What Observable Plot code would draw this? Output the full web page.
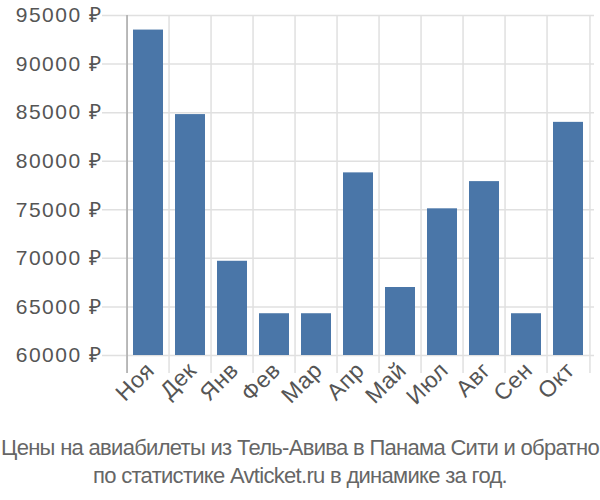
<!DOCTYPE html>
<html>
<head>
<meta charset="utf-8">
<script src="https://cdn.jsdelivr.net/npm/d3@7"></script>
<script src="https://cdn.jsdelivr.net/npm/@observablehq/plot@0.6"></script>
<style>
  html, body { margin: 0; padding: 0; background: #fff; }
  #chart { width: 600px; height: 430px; }
  #chart svg { display: block; }
  .ylab text { font-size: 21px; letter-spacing: 1.5px; }
  .xlab text { font-size: 23px; letter-spacing: 0.5px; }
  .caption { width: 600px; text-align: center; font-family: "Liberation Sans", Arial, sans-serif; font-size: 22px; letter-spacing: -0.7px; color: #666; line-height: 28px; margin-top: 4px; white-space: nowrap; }
</style>
</head>
<body>
<div id="chart"></div>
<script>
const months = ["Ноя", "Дек", "Янв", "Фев", "Мар", "Апр", "Май", "Июл", "Авг", "Сен", "Окт"];
const prices = [93500, 84800, 69700, 64300, 64300, 78800, 67000, 75100, 77900, 64300, 84000];
const yTicks = [60000, 65000, 70000, 75000, 80000, 85000, 90000, 95000];
const captionLines = ["Цены на авиабилеты из Тель-Авива в Панама Сити и обратно", "по статистике Avticket.ru в динамике за год."];

const data = months.map((m, i) => ({month: m, price: prices[i]}));
const W = 600, ML = 122, MR = 6;
const step = (W - ML - MR) / months.length;

const chart = Plot.plot({
  width: W,
  height: 430,
  marginLeft: ML,
  marginRight: MR,
  marginTop: 15,
  marginBottom: 75,
  style: {fontFamily: "Liberation Sans, Arial, sans-serif", fontSize: "20px", color: "#555", background: "#fff"},
  x: {domain: months, padding: 0, label: null},
  y: {domain: [60000, 95000], label: null},
  marks: [
    Plot.ruleY(yTicks, {y: d => d, stroke: "#e0e0e0", strokeWidth: 1.5, insetLeft: -20}),
    Plot.ruleX(months, {x: d => d, dx: -step / 2, stroke: "#e0e0e0", strokeWidth: 1.5, insetBottom: -18}),
    Plot.ruleX([months[months.length - 1]], {x: d => d, dx: step / 2, stroke: "#e0e0e0", strokeWidth: 1.5, insetBottom: -18}),
    Plot.ruleX([months[0]], {x: d => d, dx: -step / 2, stroke: "#aaa", strokeWidth: 1.5, insetBottom: -18}),
    Plot.barY(data, {x: "month", y1: 60000, y2: "price", fill: "#4a76a8", insetLeft: 6, insetRight: 6}),
    Plot.axisY(yTicks, {tickSize: 0, tickPadding: 20, tickFormat: d => d + " ₽", fill: "#555", fontSize: 21, className: "ylab"}),
    Plot.axisX({tickSize: 0, tickPadding: 11, tickRotate: -45, fill: "#555", fontSize: 23, dx: 2, className: "xlab"})
  ]
});
document.getElementById("chart").appendChild(chart);
const cap = document.createElement("div");
cap.className = "caption";
cap.innerHTML = captionLines.map(s => `<div>${s}</div>`).join("");
document.body.appendChild(cap);
</script>
</body>
</html>
